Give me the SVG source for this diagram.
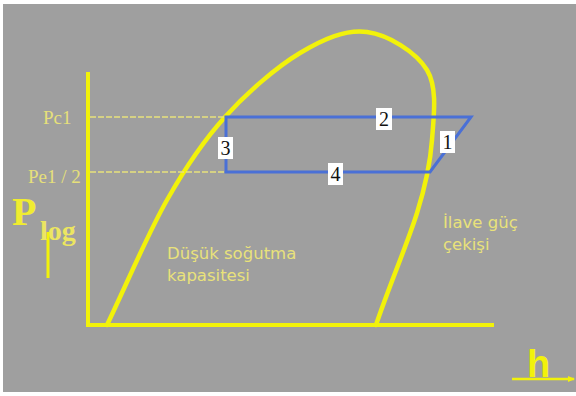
<svg xmlns="http://www.w3.org/2000/svg" width="576" height="396" viewBox="0 0 576 396">
<defs>
<style>
.ax{stroke:#f2f20a;stroke-width:4;fill:none;stroke-linecap:butt}
.crv{stroke:#f2f20a;stroke-width:4.5;fill:none;stroke-linecap:round}
.dash{stroke:#e8e27c;stroke-width:1.6;stroke-dasharray:6 2;fill:none}
.cyc{stroke:#4a70d6;stroke-width:3;fill:none;stroke-linejoin:miter}
.lbl{fill:#e6e07a;font-family:"Liberation Serif",serif}
.txt{fill:#e9e27a;font-family:"DejaVu Sans",Verdana,sans-serif;font-size:16.5px}
.nb{fill:#ffffff}
.nt{fill:#111111;font-family:"Liberation Serif",serif;font-size:20px;text-anchor:middle}
</style>
<marker id="ah" markerWidth="8" markerHeight="8" refX="6" refY="4" orient="auto" markerUnits="userSpaceOnUse">
<path d="M0,1 L7,4 L0,7 Z" fill="#f2f20a"/>
</marker>
</defs>
<rect width="576" height="396" fill="#ffffff"/>
<rect x="3" y="4" width="573" height="388" fill="#9f9f9f"/>

<g id="axes">
<line class="ax" x1="88" y1="72" x2="88" y2="327"/>
<line class="ax" x1="86" y1="325" x2="494" y2="325"/>
</g>

<g id="dome">
<path class="crv" d="M107,325 C127,283.3 147.3,234.7 167,200 C186.7,165.3 202.8,141.5 225,117 C247.2,92.5 276.3,67.2 300,53 C323.7,38.8 345.8,29.2 367,32 C388.2,34.8 416.2,52 427,70 C437.8,88 433.7,116.2 432,140 C430.3,163.8 426.5,182.5 417,213 C407.5,243.5 389,286.3 376,325"/>
</g>

<g id="connectors">
<line class="dash" x1="90" y1="117" x2="226" y2="117"/>
<line class="dash" x1="90" y1="172" x2="226" y2="172"/>
<path class="cyc" d="M226,117 L471,117 L430,172 L226,172 Z"/>
</g>

<g id="label-2"><rect class="nb" x="376" y="108" width="16" height="22"/><text class="nt" x="384" y="126">2</text></g>
<g id="label-1"><rect class="nb" x="440" y="131" width="15" height="22"/><text class="nt" x="447.5" y="149">1</text></g>
<g id="label-3"><rect class="nb" x="218" y="137" width="15" height="22"/><text class="nt" x="225.5" y="155">3</text></g>
<g id="label-4"><rect class="nb" x="328" y="163" width="15" height="22"/><text class="nt" x="335.5" y="181">4</text></g>

<g id="y-axis-label">
<text class="lbl" x="43" y="124" font-size="19">Pc1</text>
<text class="lbl" x="28" y="183" font-size="19">Pe1 / 2</text>
<text class="lbl" x="12" y="225" font-size="40" font-weight="bold" style="fill:#f0ec30">P</text>
<text class="lbl" x="40" y="240" font-size="28" font-weight="bold" style="fill:#ece660">log</text>
<line x1="48" y1="278" x2="48" y2="232" stroke="#f2f20a" stroke-width="3"/>
</g>

<g id="region-low">
<text class="txt" x="167" y="259">Düşük soğutma</text>
<text class="txt" x="167" y="281">kapasitesi</text>
</g>

<g id="region-extra">
<text class="txt" x="443" y="228">İlave güç</text>
<text class="txt" x="443" y="250">çekişi</text>
</g>

<g id="x-axis-label">
<text x="527" y="377" font-family="Liberation Sans,Arial,sans-serif" font-weight="bold" font-size="38" fill="#f2f20a">h</text>
<line x1="512" y1="379" x2="574" y2="379" stroke="#f2f20a" stroke-width="2.5" marker-end="url(#ah)"/>
</g>
</svg>
